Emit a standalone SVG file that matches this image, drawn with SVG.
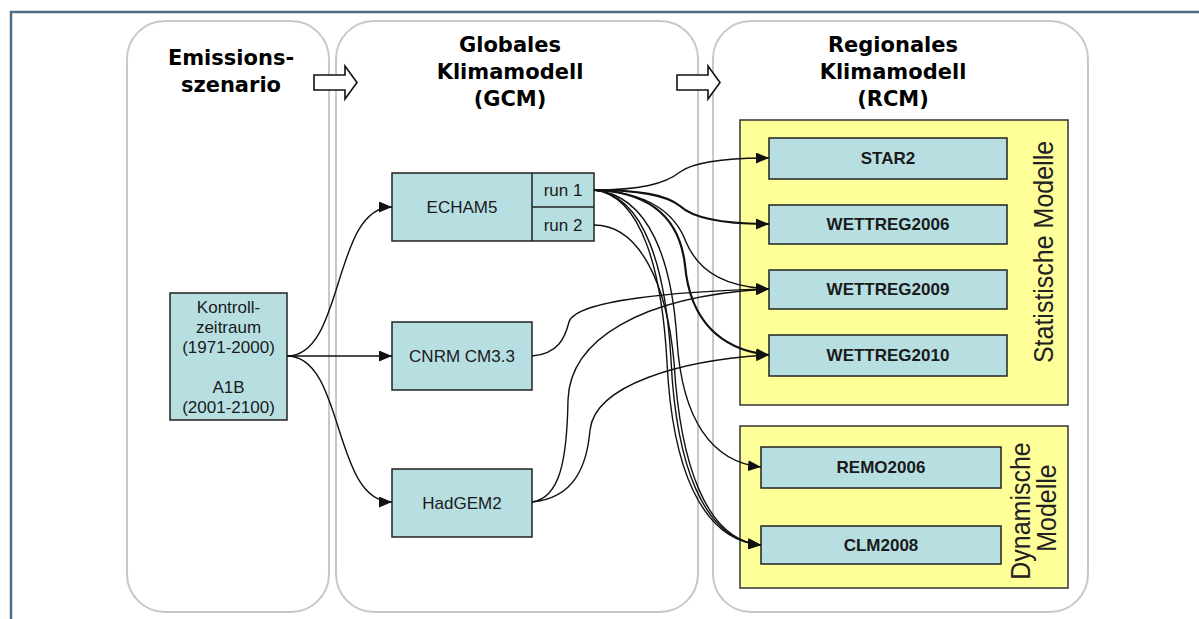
<svg xmlns="http://www.w3.org/2000/svg" width="1199" height="619" viewBox="0 0 1199 619">
<defs>
<style>
.panel{fill:#fff;stroke:#c8c8c8;stroke-width:2}
.head{font-family:"DejaVu Sans",sans-serif;font-weight:bold;font-size:21px;fill:#000;text-anchor:middle}
.node{fill:#b7dfe2;stroke:#222;stroke-width:1.5}
.grp{fill:#ffff99;stroke:#333;stroke-width:1.5}
.t{font-family:"Liberation Sans",Arial,sans-serif;font-size:17px;fill:#1a1a1a;text-anchor:middle}
.tb{font-family:"Liberation Sans",Arial,sans-serif;font-size:17px;font-weight:bold;fill:#1a1a1a;text-anchor:middle}
.rot{font-family:"Liberation Sans",Arial,sans-serif;font-size:25px;fill:#222;text-anchor:middle}
.c{fill:none;stroke:#111;stroke-width:1.4}
.cb{fill:none;stroke:#111;stroke-width:2.2}
.big{fill:#fff;stroke:#111;stroke-width:1.6}
</style>
<marker id="ah" markerUnits="userSpaceOnUse" markerWidth="13" markerHeight="11" viewBox="0 0 13 11" refX="13" refY="5.5" orient="auto">
<path d="M0,0 L13,5.5 L0,11 Z" fill="#111"/>
</marker>
</defs>
<rect x="0" y="0" width="1199" height="619" fill="#fff"/>
<path d="M11,640 L11,12 L1210,12" fill="none" stroke="#4d6d86" stroke-width="2.5"/>

<g id="panel-emission">
<rect class="panel" x="127" y="21" width="202" height="591" rx="38"/>
<text class="head" x="231" y="65">Emissions-</text>
<text class="head" x="231" y="92">szenario</text>
</g>
<g id="panel-gcm">
<rect class="panel" x="336" y="21" width="362" height="591" rx="38"/>
<text class="head" x="510" y="52">Globales</text>
<text class="head" x="510" y="79">Klimamodell</text>
<text class="head" x="510" y="106">(GCM)</text>
</g>
<g id="panel-rcm">
<rect class="panel" x="713" y="21" width="375" height="591" rx="38"/>
<text class="head" x="893" y="52">Regionales</text>
<text class="head" x="893" y="79">Klimamodell</text>
<text class="head" x="893" y="106">(RCM)</text>
</g>

<g id="flow-arrows">
<path class="big" d="M314,75 L345,75 L345,66 L357,82.5 L345,99 L345,90 L314,90 Z"/>
<path class="big" d="M677,75 L708,75 L708,66 L720,82.5 L708,99 L708,90 L677,90 Z"/>
</g>

<g id="group-statistisch">
<rect class="grp" x="740" y="120" width="328" height="285"/>
<text class="rot" transform="translate(1053,252) rotate(-90) scale(1,1.1)">Statistische Modelle</text>
</g>
<g id="group-dynamisch">
<rect class="grp" x="740" y="426" width="328" height="162"/>
<text class="rot" transform="translate(1030,511) rotate(-90) scale(1,1.1)">Dynamische</text>
<text class="rot" transform="translate(1056,508) rotate(-90) scale(1,1.1)">Modelle</text>
</g>

<g id="node-kontroll">
<rect class="node" x="170" y="293" width="117" height="127"/>
<text class="t" x="228.5" y="313">Kontroll-</text>
<text class="t" x="228.5" y="333">zeitraum</text>
<text class="t" x="228.5" y="353">(1971-2000)</text>
<text class="t" x="228.5" y="393">A1B</text>
<text class="t" x="228.5" y="413">(2001-2100)</text>
</g>
<g id="node-echam5">
<rect class="node" x="392" y="173" width="202" height="68"/>
<line x1="532" y1="173" x2="532" y2="241" stroke="#222" stroke-width="1.5"/>
<line x1="532" y1="207" x2="594" y2="207" stroke="#222" stroke-width="1.5"/>
<text class="t" x="462" y="213">ECHAM5</text>
<text class="t" x="563" y="196">run 1</text>
<text class="t" x="563" y="231">run 2</text>
</g>
<g id="node-cnrm">
<rect class="node" x="392" y="322" width="140" height="68"/>
<text class="t" x="462" y="362">CNRM CM3.3</text>
</g>
<g id="node-hadgem2">
<rect class="node" x="392" y="469" width="140" height="68"/>
<text class="t" x="462" y="509">HadGEM2</text>
</g>
<g id="node-star2">
<rect class="node" x="769" y="138" width="238" height="41"/>
<text class="tb" x="888" y="164">STAR2</text>
</g>
<g id="node-wettreg2006">
<rect class="node" x="769" y="205" width="238" height="39"/>
<text class="tb" x="888" y="230">WETTREG2006</text>
</g>
<g id="node-wettreg2009">
<rect class="node" x="769" y="270" width="238" height="39"/>
<text class="tb" x="888" y="295">WETTREG2009</text>
</g>
<g id="node-wettreg2010">
<rect class="node" x="769" y="335" width="238" height="41"/>
<text class="tb" x="888" y="361">WETTREG2010</text>
</g>
<g id="node-remo2006">
<rect class="node" x="761" y="447" width="240" height="41"/>
<text class="tb" x="881" y="473">REMO2006</text>
</g>
<g id="node-clm2008">
<rect class="node" x="761" y="526" width="240" height="38"/>
<text class="tb" x="881" y="551">CLM2008</text>
</g>

<g id="connectors">
<path class="c" marker-end="url(#ah)" d="M287,356 C345,356 332,207 392,207"/>
<path class="c" marker-end="url(#ah)" d="M287,356 L392,356"/>
<path class="c" marker-end="url(#ah)" d="M287,356 C345,356 332,502 392,502"/>
<path class="c" marker-end="url(#ah)" d="M594,190 C640,190 665,184 680,172 C695,161 730,158 769,158"/>
<path class="cb" marker-end="url(#ah)" d="M594,190 C640,190 666,195 680,206 C695,220 730,224 769,224"/>
<path class="c" marker-end="url(#ah)" d="M594,190 C650,192 676,215 686,242 C700,275 730,287 769,289"/>
<path class="cb" marker-end="url(#ah)" d="M594,190 C655,192 680,222 685,265 C690,322 722,350 769,355"/>
<path class="c" marker-end="url(#ah)" d="M594,190 C650,195 672,262 677,340 C682,420 712,462 761,467"/>
<path class="c" marker-end="url(#ah)" d="M594,190 C645,195 666,270 671,360 C676,462 702,540 761,545"/>
<path class="c" marker-end="url(#ah)" d="M594,190 C642,195 662,272 667,362 C672,465 700,540 761,545"/>
<path class="c" marker-end="url(#ah)" d="M594,225 C640,225 667,285 674,362 C680,462 705,540 761,545"/>
<path class="c" marker-end="url(#ah)" d="M532,356 C558,354 565,338 569,322 C575,300 680,291 769,289"/>
<path class="c" marker-end="url(#ah)" d="M532,502 C560,498 567,460 568,400 C570,340 640,296 769,289"/>
<path class="c" marker-end="url(#ah)" d="M532,502 C575,498 587,465 590,430 C595,385 680,360 769,355"/>
</g>
</svg>
